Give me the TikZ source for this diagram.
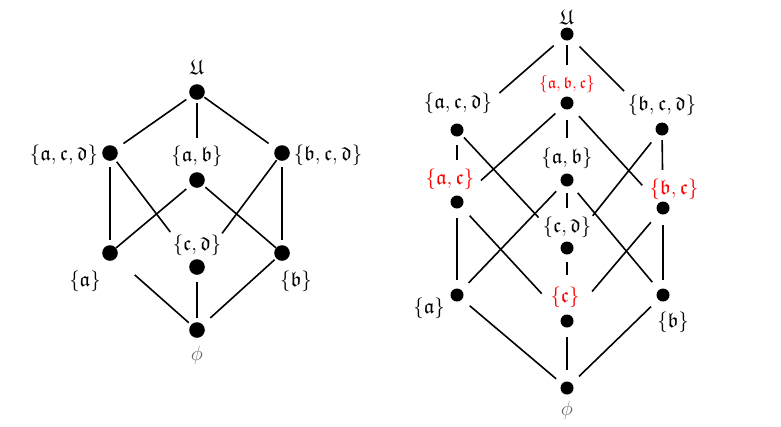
\documentclass[tikz,border=0pt]{standalone}
\usepackage{amssymb}
\begin{document}
\begin{tikzpicture}[x=1pt,y=-1pt,
  ldot/.style={circle,fill=black,inner sep=0pt,minimum size=15.6pt},
  rdot/.style={circle,fill=black,inner sep=0pt,minimum size=13pt},
  lab/.style={inner sep=0pt,font=\fontsize{21}{25}\selectfont},
  labs/.style={inner sep=0pt,font=\fontsize{16.5}{19}\selectfont,text=red},
  labr/.style={lab,text=red},
  ln/.style={line width=1.6pt}]
\useasboundingbox (0,0) rectangle (781,426);
\fill[white] (0,0) rectangle (781,426);
% ---------- left lattice ----------
\node[ldot] (lU) at (197,92) {};
\node[ldot] (lacd) at (110,153) {};
\node[ldot] (lab) at (197,180) {};
\node[ldot] (lbcd) at (282,153) {};
\node[ldot] (la) at (110,253) {};
\node[ldot] (lcd) at (197,267) {};
\node[ldot] (lb) at (282,253) {};
\node[ldot] (lphi) at (197,330) {};
\node[lab] (lUt) at (197,67) {$\mathfrak{U}$};
\node[lab] (lacdt) at (64,155) {$\{\mathfrak{a},\mathfrak{c},\mathfrak{d}\}$};
\node[lab] (labt) at (197,156) {$\{\mathfrak{a},\mathfrak{b}\}$};
\node[lab] (lbcdt) at (328,155) {$\{\mathfrak{b},\mathfrak{c},\mathfrak{d}\}$};
\node[lab] (lat) at (85,281) {$\{\mathfrak{a}\}$};
\node[lab] (lcdt) at (197,245) {$\{\mathfrak{c},\mathfrak{d}\}$};
\node[lab] (lbt) at (296,281) {$\{\mathfrak{b}\}$};
\node[lab,text=black!60] (lphit) at (197,355) {$\phi$};
\draw[ln,shorten <=5pt,shorten >=8.5pt] (lU) -- (lacd);
\draw[ln,shorten <=1pt,shorten >=8.5pt] (lU) -- (lbcd);
\draw[ln,shorten <=3pt,shorten >=34pt] (lU) -- (lab);
\draw[ln,shorten <=6pt,shorten >=5pt] (lacd) -- (la);
\draw[ln,shorten <=6pt,shorten >=5pt] (lbcd) -- (lb);
\draw[ln,shorten <=3pt,shorten >=36pt] (lacd) -- (lcd);
\draw[ln,shorten <=1pt,shorten >=34pt] (lbcd) -- (lcd);
\draw[ln,shorten <=6pt,shorten >=0pt] (lab) -- (la);
\draw[ln,shorten <=3pt,shorten >=0pt] (lab) -- (lb);
\draw[ln,shorten <=7pt,shorten >=4pt] (lcd) -- (lphi);
\draw[ln,shorten <=25pt,shorten >=3pt] (la) -- (lphi);
\draw[ln,shorten <=2pt,shorten >=10pt] (lb) -- (lphi);
% ---------- right lattice ----------
\node[rdot] (rU) at (567,34) {};
\node[rdot] (rabc) at (567,103) {};
\node[rdot] (racd) at (457,130) {};
\node[rdot] (rbcd) at (662,129) {};
\node[rdot] (rac) at (457,202) {};
\node[rdot] (rab) at (567,180) {};
\node[rdot] (rbc) at (663,208) {};
\node[rdot] (rcd) at (567,248) {};
\node[rdot] (ra) at (457,295) {};
\node[rdot] (rc) at (567,321) {};
\node[rdot] (rb) at (663,295) {};
\node[rdot] (rphi) at (567,388) {};
\node[lab] (rUt) at (567,17) {$\mathfrak{U}$};
\node[labs] (rabct) at (567,84) {$\{\mathfrak{a},\mathfrak{b},\mathfrak{c}\}$};
\node[lab] (racdt) at (458,103) {$\{\mathfrak{a},\mathfrak{c},\mathfrak{d}\}$};
\node[lab] (rbcdt) at (662,105) {$\{\mathfrak{b},\mathfrak{c},\mathfrak{d}\}$};
\node[lab] (rabt) at (567,158) {$\{\mathfrak{a},\mathfrak{b}\}$};
\node[labr] (ract) at (450,179) {$\{\mathfrak{a},\mathfrak{c}\}$};
\node[labr] (rbct) at (674,189) {$\{\mathfrak{b},\mathfrak{c}\}$};
\node[lab] (rcdt) at (567,227) {$\{\mathfrak{c},\mathfrak{d}\}$};
\node[lab] (rat) at (429,308) {$\{\mathfrak{a}\}$};
\node[labr] (rct) at (565,297) {$\{\mathfrak{c}\}$};
\node[lab] (rbt) at (673,322) {$\{\mathfrak{b}\}$};
\node[lab,text=black!60] (rphit) at (567,410) {$\phi$};
\draw[ln,shorten <=11pt,shorten >=49.5pt] (rU) -- (racd);
\draw[ln,shorten <=4.5pt,shorten >=31.5pt] (rU) -- (rabc);
\draw[ln,shorten <=11pt,shorten >=47pt] (rU) -- (rbcd);
\draw[ln,shorten <=9pt,shorten >=25.5pt] (rabc) -- (rac);
\draw[ln,shorten <=10.5pt,shorten >=35.5pt] (rabc) -- (rab);
\draw[ln,shorten <=11pt,shorten >=24pt] (rabc) -- (rbc);
\draw[ln,shorten <=8.5pt,shorten >=35.5pt] (racd) -- (rac);
\draw[ln,shorten <=3.5pt,shorten >=35pt] (racd) -- (rcd);
\draw[ln,shorten <=10.5pt,shorten >=34.5pt] (rbcd) -- (rcd);
\draw[ln,shorten <=4.5pt,shorten >=31.5pt] (rbcd) -- (rbc);
\draw[ln,shorten <=9pt,shorten >=10pt] (rab) -- (ra);
\draw[ln,shorten <=10pt,shorten >=10pt] (rab) -- (rb);
\draw[ln,shorten <=6.5pt,shorten >=33.5pt] (rab) -- (rcd);
\draw[ln,shorten <=9.5pt,shorten >=8.5pt] (rac) -- (ra);
\draw[ln,shorten <=12pt,shorten >=30.5pt] (rac) -- (rc);
\draw[ln,shorten <=7.5pt,shorten >=39.5pt] (rcd) -- (rc);
\draw[ln,shorten <=12pt,shorten >=32pt] (rbc) -- (rc);
\draw[ln,shorten <=10.5pt,shorten >=8.5pt] (rbc) -- (rb);
\draw[ln,shorten <=10pt,shorten >=7.5pt] (ra) -- (rphi);
\draw[ln,shorten <=10pt,shorten >=10pt] (rb) -- (rphi);
\draw[ln,shorten <=9.5pt,shorten >=11.5pt] (rc) -- (rphi);
\end{tikzpicture}
\end{document}
